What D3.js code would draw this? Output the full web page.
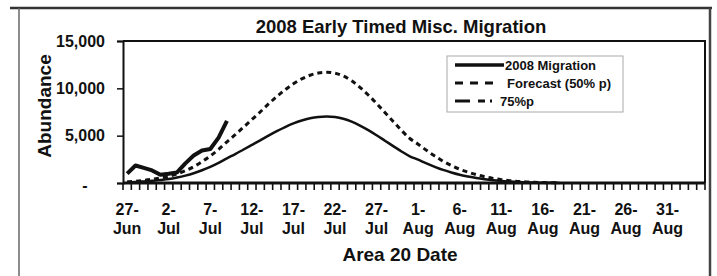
<!DOCTYPE html>
<html>
<head>
<meta charset="utf-8">
<script src="https://cdn.jsdelivr.net/npm/d3@7"></script>
<style>
body { margin: 0; background: #fff; }
text { font-family: "Liberation Sans", Arial, sans-serif; font-weight: bold; fill: #111; }
</style>
</head>
<body>
<div id="chart"></div>
<script>
// Define SVG dimensions
var svgWidth = 717;
var svgHeight = 276;

// plot area box
var plot = { left: 123, right: 705, top: 41, bottom: 183 };

// categories: one per day, 27-Jun to 4-Sep
var days = d3.timeDay.range(new Date(2008, 5, 27), new Date(2008, 8, 5));
var tickLabels = ["27-Jun", "2-Jul", "7-Jul", "12-Jul", "17-Jul", "22-Jul", "27-Jul",
    "1-Aug", "6-Aug", "11-Aug", "16-Aug", "21-Aug", "26-Aug", "31-Aug"];
var yTicks = [0, 5000, 10000, 15000];

// 2008 migration (daily, from 27-Jun)
var migration = [990, 1850, 1590, 1330, 860, 970, 1120, 2070, 2900, 3430, 3590, 4790, 6570];

// dashed forecast curve (from 27-Jun)
var forecast50 = [130, 190, 280, 390, 540, 700, 960, 1300, 1720, 2250, 2850, 3550, 4350,
    5100, 5900, 6700, 7500, 8350, 9130, 9850, 10480, 11000, 11380, 11620, 11700,
    11600, 11300, 10800, 10100, 9300, 8400, 7450, 6500, 5550, 4700, 4100, 3450, 2850,
    2300, 1850, 1450, 1150, 880, 660, 490, 350, 250, 170, 110, 70, 45, 30, 20];

// solid forecast curve (from 27-Jun)
var forecast75 = [80, 110, 170, 230, 320, 420, 580, 780, 1030, 1350, 1710, 2130, 2610,
    3060, 3540, 4020, 4500, 5010, 5480, 5910, 6290, 6600, 6830, 6970, 7020,
    6960, 6780, 6480, 6060, 5580, 5040, 4470, 3900, 3330, 2820, 2460, 2070, 1710,
    1380, 1110, 870, 690, 530, 400, 290, 210, 150, 100, 70, 40, 30, 20, 10];

var fmt = d3.timeFormat("%-d-%b");

var svg = d3.select("#chart")
    .append("svg")
    .attr("width", svgWidth)
    .attr("height", svgHeight);

// outer frame
svg.append("line").attr("x1", 10).attr("x2", 712).attr("y1", 8).attr("y2", 8)
    .attr("stroke", "#333").attr("stroke-width", 2.5);
svg.append("line").attr("x1", 19).attr("x2", 19).attr("y1", 8).attr("y2", svgHeight)
    .attr("stroke", "#666").attr("stroke-width", 1.5);
svg.append("line").attr("x1", 710).attr("x2", 710).attr("y1", 8).attr("y2", svgHeight)
    .attr("stroke", "#444").attr("stroke-width", 2.5);

// scales
var x = d3.scaleBand()
    .domain(days)
    .range([plot.left, plot.right])
    .padding(0);

var y = d3.scaleLinear()
    .domain([0, 15000])
    .range([plot.bottom, plot.top]);

var cx = (d, i) => x(days[i]) + x.bandwidth() / 2;

// title
svg.append("text")
    .attr("x", 401).attr("y", 33)
    .attr("text-anchor", "middle")
    .attr("font-size", "18.5px")
    .text("2008 Early Timed Misc. Migration");

// plot frame top/right
svg.append("path")
    .attr("d", `M${plot.left},${plot.top}H${plot.right}V${plot.bottom}`)
    .attr("fill", "none")
    .attr("stroke", "#111")
    .attr("stroke-width", 2);

// y axis
var leftAxis = d3.axisLeft(y)
    .tickValues(yTicks)
    .tickSize(6)
    .tickPadding(12)
    .tickFormat(d => d === 0 ? "-" : d3.format(",")(d));

var yAxis = svg.append("g")
    .attr("transform", `translate(${plot.left},0)`)
    .call(leftAxis);
yAxis.select(".domain").attr("stroke", "#111").attr("stroke-width", 2);
yAxis.selectAll(".tick line").attr("stroke", "#111").attr("stroke-width", 1.5);
yAxis.selectAll(".tick text")
    .attr("font-size", "16px")
    .attr("font-family", null)
    .attr("fill", "#111")
    .filter(d => d === 0)
    .attr("x", -38)
    .attr("y", 2)
    .attr("text-anchor", "middle");

// x axis labels (two lines each)
var bottomAxis = d3.axisBottom(x)
    .tickValues(days.filter(d => tickLabels.includes(fmt(d))))
    .tickSize(0)
    .tickFormat(fmt);

var xAxis = svg.append("g")
    .attr("transform", `translate(0,${plot.bottom})`)
    .call(bottomAxis);
xAxis.select(".domain").remove();
xAxis.selectAll(".tick text")
    .attr("font-size", "16px")
    .attr("font-family", null)
    .attr("fill", "#111")
    .attr("y", 0)
    .attr("dy", null)
    .each(function(d) {
        var parts = fmt(d).split("-");
        var t = d3.select(this).text(null);
        t.append("tspan").attr("x", 0).attr("y", 32).text(parts[0] + "-");
        t.append("tspan").attr("x", 0).attr("y", 51).text(parts[1]);
    });

// daily tick marks on category boundaries
var edges = days.map(d => x(d)).concat([plot.right]);
svg.append("g").selectAll("line")
    .data(edges)
    .enter()
    .append("line")
    .attr("x1", d => d).attr("x2", d => d)
    .attr("y1", plot.bottom).attr("y2", plot.bottom + 7)
    .attr("stroke", "#111")
    .attr("stroke-width", 1.6);

svg.append("line")
    .attr("x1", plot.left).attr("x2", plot.right)
    .attr("y1", plot.bottom).attr("y2", plot.bottom)
    .attr("stroke", "#111").attr("stroke-width", 3);

// axis titles
svg.append("text")
    .attr("x", 400).attr("y", 261)
    .attr("text-anchor", "middle")
    .attr("font-size", "19px")
    .text("Area 20 Date");

svg.append("text")
    .attr("transform", "translate(51,106) rotate(-90)")
    .attr("text-anchor", "middle")
    .attr("font-size", "19px")
    .text("Abundance");

// lines
var smooth = d3.line().x(cx).y(d => y(d)).curve(d3.curveMonotoneX);
var straight = d3.line().x(cx).y(d => y(d));

svg.append("path")
    .attr("d", smooth(forecast75))
    .attr("fill", "none")
    .attr("stroke", "#111")
    .attr("stroke-width", 2.5);

svg.append("path")
    .attr("d", smooth(forecast50))
    .attr("fill", "none")
    .attr("stroke", "#111")
    .attr("stroke-width", 3)
    .attr("stroke-dasharray", "5,4");

svg.append("path")
    .attr("d", straight(migration))
    .attr("fill", "none")
    .attr("stroke", "#111")
    .attr("stroke-width", 4)
    .attr("stroke-linejoin", "round");

// legend
var legend = svg.append("g");
legend.append("rect")
    .attr("x", 447).attr("y", 56)
    .attr("width", 176).attr("height", 56)
    .attr("fill", "#fff")
    .attr("stroke", "#aaa");

var legendItems = [
    { label: "2008 Migration", dash: null, width: 3.5, x2: 504, tx: 505 },
    { label: "Forecast (50% p)", dash: "8,7", width: 3, x2: 493, tx: 507 },
    { label: "75%p", dash: "15,8,7,5,2,40", width: 3, x2: 497, tx: 500 }
];

legendItems.forEach(function(item, i) {
    var ly = 65 + i * 18;
    legend.append("line")
        .attr("x1", 455).attr("x2", item.x2)
        .attr("y1", ly).attr("y2", ly)
        .attr("stroke", "#111")
        .attr("stroke-width", item.width)
        .attr("stroke-dasharray", item.dash);
    legend.append("text")
        .attr("x", item.tx).attr("y", ly + 5)
        .attr("font-size", "13px")
        .text(item.label);
});
</script>
</body>
</html>
